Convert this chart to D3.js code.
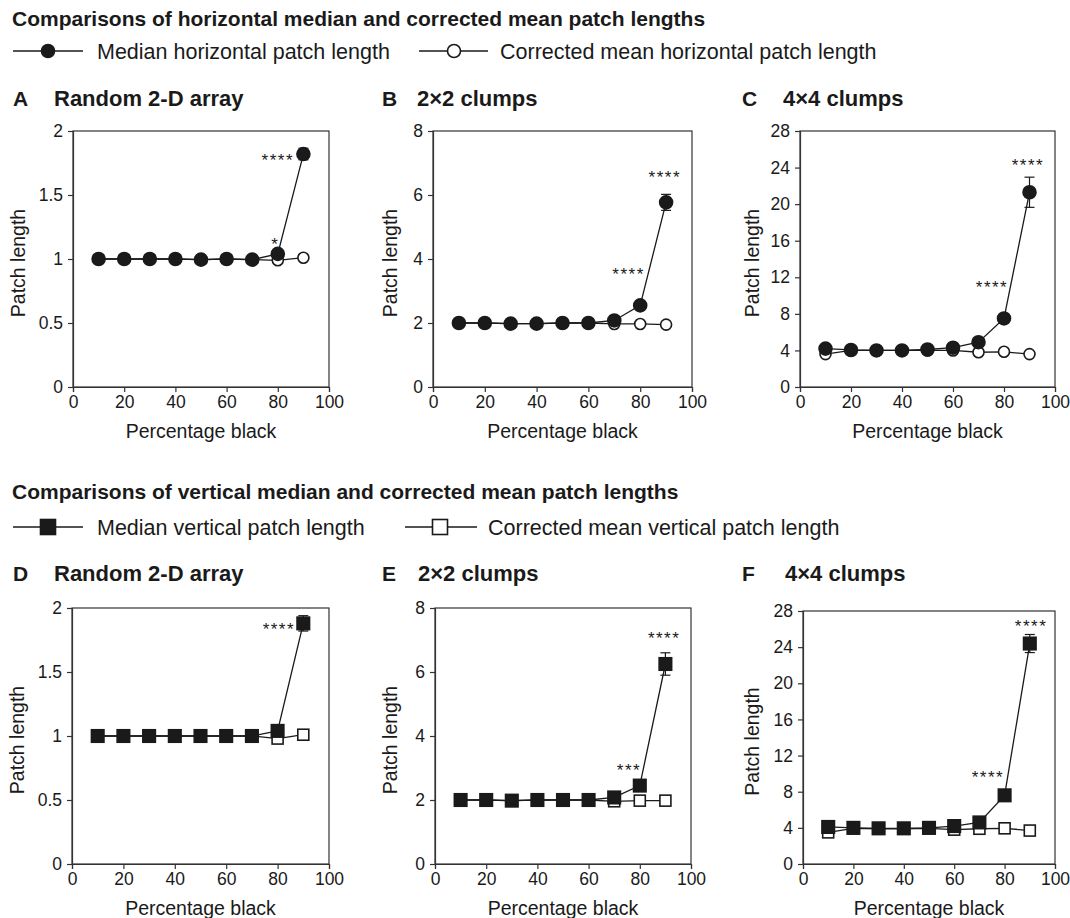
<!DOCTYPE html>
<html>
<head>
<meta charset="utf-8">
<script src="https://cdn.jsdelivr.net/npm/d3@7"></script>
<style>
  body { margin: 0; background: #fff; }
  svg { font-family: "Liberation Sans", Arial, Helvetica, sans-serif; }
</style>
</head>
<body>
<svg id="chart" width="1070" height="918"></svg>
<script>
// x categories shared by all six panels
const pctBlack = [10, 20, 30, 40, 50, 60, 70, 80, 90];
const xTicks = [0, 20, 40, 60, 80, 100];
const yTicksRand = [0, 0.5, 1, 1.5, 2];
const yTicks2x2 = [0, 2, 4, 6, 8];
const yTicks4x4 = [0, 4, 8, 12, 16, 20, 24, 28];

// horizontal patch lengths
const hRandMedian = [1.0, 1.0, 1.0, 1.0, 0.995, 1.0, 0.995, 1.04, 1.82];
const hRandMedianErr = [0, 0, 0, 0, 0, 0, 0, 0, 0.045];
const hRandMean = [1.0, 1.0, 1.0, 1.0, 0.995, 1.0, 0.995, 0.99, 1.01];
const hRandStars = [{ x: 79, y: 1.14, label: '*' }, { x: 80, y: 1.80, label: '****' }];

const h2Median = [2.0, 2.0, 1.98, 1.98, 2.0, 2.0, 2.08, 2.55, 5.77];
const h2MedianErr = [0, 0, 0, 0, 0, 0, 0, 0, 0.25];
const h2Mean = [2.0, 2.0, 1.98, 1.98, 2.0, 2.0, 1.97, 1.97, 1.95];
const h2Stars = [{ x: 75.5, y: 3.64, label: '****' }, { x: 89.5, y: 6.67, label: '****' }];

const h4Median = [4.2, 4.05, 4.0, 4.0, 4.1, 4.3, 4.9, 7.5, 21.3];
const h4MedianErr = [0, 0, 0, 0, 0, 0, 0.2, 0.5, 1.65];
const h4Mean = [3.6, 4.0, 4.0, 4.0, 4.0, 4.0, 3.8, 3.85, 3.6];
const h4Stars = [{ x: 75.3, y: 11.3, label: '****' }, { x: 89.4, y: 24.6, label: '****' }];

// vertical patch lengths
const vRandMedian = [1.0, 1.0, 1.0, 1.0, 1.0, 1.0, 1.0, 1.04, 1.88];
const vRandMedianErr = [0, 0, 0, 0, 0, 0, 0, 0, 0.06];
const vRandMean = [1.0, 1.0, 1.0, 1.0, 1.0, 1.0, 1.0, 0.98, 1.01];
const vRandStars = [{ x: 80.5, y: 1.86, label: '****' }];

const v2Median = [2.0, 2.0, 1.98, 2.0, 2.0, 2.0, 2.08, 2.45, 6.25];
const v2MedianErr = [0, 0, 0, 0, 0, 0, 0, 0, 0.35];
const v2Mean = [2.0, 2.0, 1.98, 2.0, 2.0, 2.0, 1.96, 1.98, 1.98];
const v2Stars = [{ x: 75.8, y: 3.03, label: '***' }, { x: 89.5, y: 7.16, label: '****' }];

const v4Median = [4.1, 4.0, 3.95, 3.95, 4.0, 4.2, 4.6, 7.6, 24.4];
const v4MedianErr = [0, 0, 0, 0, 0, 0, 0, 0.6, 1.0];
const v4Mean = [3.5, 3.95, 3.9, 3.9, 3.95, 3.8, 3.9, 3.95, 3.7];
const v4Stars = [{ x: 73.4, y: 10.0, label: '****' }, { x: 90.5, y: 26.7, label: '****' }];

const ink = '#1a1a1a';
const svg = d3.select('#chart');

// section headings and legends
const headings = [
  { y: 26, text: 'Comparisons of horizontal median and corrected mean patch lengths' },
  { y: 499, text: 'Comparisons of vertical median and corrected mean patch lengths' }
];
svg.selectAll('text.heading')
  .data(headings)
  .join('text')
  .attr('class', 'heading')
  .attr('x', 12)
  .attr('y', d => d.y)
  .attr('font-size', 21)
  .attr('font-weight', 'bold')
  .attr('fill', ink)
  .text(d => d.text);

const legendItems = [
  { y: 51, x0: 13, x1: 83, mx: 48, tx: 97, shape: 'circle', filled: true, text: 'Median horizontal patch length' },
  { y: 51, x0: 419, x1: 488, mx: 454, tx: 500, shape: 'circle', filled: false, text: 'Corrected mean horizontal patch length' },
  { y: 527, x0: 13, x1: 83, mx: 48, tx: 97, shape: 'square', filled: true, text: 'Median vertical patch length' },
  { y: 527, x0: 405, x1: 477, mx: 440, tx: 488, shape: 'square', filled: false, text: 'Corrected mean vertical patch length' }
];

function marker(sel, shape, filled, size) {
  if (shape === 'circle') {
    sel.append('circle')
      .attr('r', size / 2)
      .attr('fill', filled ? ink : '#fff')
      .attr('stroke', ink)
      .attr('stroke-width', 1.6);
  } else {
    sel.append('rect')
      .attr('x', -size / 2)
      .attr('y', -size / 2)
      .attr('width', size)
      .attr('height', size)
      .attr('fill', filled ? ink : '#fff')
      .attr('stroke', ink)
      .attr('stroke-width', 1.6);
  }
}

legendItems.forEach(d => {
  const g = svg.append('g');
  g.append('line')
    .attr('x1', d.x0).attr('x2', d.x1)
    .attr('y1', d.y).attr('y2', d.y)
    .attr('stroke', ink).attr('stroke-width', 1.6);
  const m = g.append('g').attr('transform', `translate(${d.mx},${d.y})`);
  marker(m, d.shape, d.filled, d.shape === 'circle' ? 13 : 15);
  g.append('text')
    .attr('x', d.tx)
    .attr('y', d.y + 8)
    .attr('font-size', 21.5)
    .attr('fill', ink)
    .text(d.text);
});

// one panel per clump size and direction
const panels = [
  { letter: 'A', title: 'Random 2-D array', lx: 13, tx: 54, ty: 106, left: 73, right: 329, top: 131, bottom: 387, ylx: 18,
    yMax: 2, yTicks: yTicksRand, median: hRandMedian, err: hRandMedianErr, mean: hRandMean, stars: hRandStars, shape: 'circle' },
  { letter: 'B', title: '2\u00d72 clumps', lx: 382, tx: 417, ty: 106, left: 433, right: 692, top: 131, bottom: 387, ylx: 390,
    yMax: 8, yTicks: yTicks2x2, median: h2Median, err: h2MedianErr, mean: h2Mean, stars: h2Stars, shape: 'circle' },
  { letter: 'C', title: '4\u00d74 clumps', lx: 742, tx: 783, ty: 106, left: 800, right: 1055, top: 131, bottom: 387, ylx: 752,
    yMax: 28, yTicks: yTicks4x4, median: h4Median, err: h4MedianErr, mean: h4Mean, stars: h4Stars, shape: 'circle' },
  { letter: 'D', title: 'Random 2-D array', lx: 13, tx: 54, ty: 581, left: 72, right: 329, top: 608, bottom: 864, ylx: 17,
    yMax: 2, yTicks: yTicksRand, median: vRandMedian, err: vRandMedianErr, mean: vRandMean, stars: vRandStars, shape: 'square' },
  { letter: 'E', title: '2\u00d72 clumps', lx: 382, tx: 418, ty: 581, left: 435, right: 691, top: 608, bottom: 864, ylx: 390,
    yMax: 8, yTicks: yTicks2x2, median: v2Median, err: v2MedianErr, mean: v2Mean, stars: v2Stars, shape: 'square' },
  { letter: 'F', title: '4\u00d74 clumps', lx: 742, tx: 785, ty: 581, left: 803, right: 1055, top: 611, bottom: 864, ylx: 752,
    yMax: 28, yTicks: yTicks4x4, median: v4Median, err: v4MedianErr, mean: v4Mean, stars: v4Stars, shape: 'square' }
];

panels.forEach(p => {
  const g = svg.append('g');

  g.append('text').attr('x', p.lx).attr('y', p.ty)
    .attr('font-size', 21).attr('font-weight', 'bold').attr('fill', ink).text(p.letter);
  g.append('text').attr('x', p.tx).attr('y', p.ty)
    .attr('font-size', 22).attr('font-weight', 'bold').attr('fill', ink).text(p.title);

  const x = d3.scaleLinear().domain([0, 100]).range([p.left, p.right]);
  const y = d3.scaleLinear().domain([0, p.yMax]).range([p.bottom, p.top]);

  // frame
  g.append('rect')
    .attr('x', p.left).attr('y', p.top)
    .attr('width', p.right - p.left).attr('height', p.bottom - p.top)
    .attr('fill', 'none').attr('stroke', '#333').attr('stroke-width', 1.2);

  const xAxis = g.append('g')
    .attr('transform', `translate(0,${p.bottom})`)
    .call(d3.axisBottom(x).tickValues(xTicks).tickSizeOuter(0).tickSize(5).tickPadding(4));
  const yAxis = g.append('g')
    .attr('transform', `translate(${p.left},0)`)
    .call(d3.axisLeft(y).tickValues(p.yTicks).tickSizeOuter(0).tickSize(5).tickPadding(5).tickFormat(d3.format('')));
  [xAxis, yAxis].forEach(a => {
    a.selectAll('.domain').attr('stroke', '#333').attr('stroke-width', 1.2);
    a.selectAll('.tick line').attr('stroke', '#333').attr('stroke-width', 1.2);
    a.selectAll('.tick text')
      .attr('font-family', '"Liberation Sans", Arial, sans-serif')
      .attr('font-size', 17.5).attr('fill', ink);
  });

  g.append('text')
    .attr('x', (p.left + p.right) / 2).attr('y', p.bottom + 51)
    .attr('text-anchor', 'middle').attr('font-size', 19.5).attr('fill', ink)
    .text('Percentage black');
  g.append('text')
    .attr('transform', `translate(${p.ylx},${(p.top + p.bottom) / 2 + 4}) rotate(-90)`)
    .attr('text-anchor', 'middle').attr('dominant-baseline', 'central')
    .attr('font-size', 19.5).attr('fill', ink)
    .text('Patch length');

  const line = d3.line().x((d, i) => x(pctBlack[i])).y(d => y(d));

  // corrected mean (open markers) underneath
  g.append('path').attr('d', line(p.mean))
    .attr('fill', 'none').attr('stroke', ink).attr('stroke-width', 1.3);
  p.mean.forEach((v, i) => {
    const m = g.append('g').attr('transform', `translate(${x(pctBlack[i])},${y(v)})`);
    marker(m, p.shape, false, 11);
  });

  // median (filled markers) with error bars
  g.append('path').attr('d', line(p.median))
    .attr('fill', 'none').attr('stroke', ink).attr('stroke-width', 1.3);
  p.median.forEach((v, i) => {
    const cx = x(pctBlack[i]);
    const e = p.err[i];
    if (e > 0) {
      g.append('line').attr('x1', cx).attr('x2', cx).attr('y1', y(v - e)).attr('y2', y(v + e))
        .attr('stroke', ink).attr('stroke-width', 1.2);
      [v - e, v + e].forEach(t => {
        g.append('line').attr('x1', cx - 5).attr('x2', cx + 5).attr('y1', y(t)).attr('y2', y(t))
          .attr('stroke', ink).attr('stroke-width', 1.2);
      });
    }
    const m = g.append('g').attr('transform', `translate(${cx},${y(v)})`);
    marker(m, p.shape, true, p.shape === 'circle' ? 13 : 12.5);
  });

  // significance stars
  g.selectAll('text.star')
    .data(p.stars)
    .join('text')
    .attr('class', 'star')
    .attr('x', d => x(d.x))
    .attr('y', d => y(d.y) + 9)
    .attr('text-anchor', 'middle')
    .attr('font-size', 17)
    .attr('letter-spacing', 1.5)
    .attr('fill', ink)
    .text(d => d.label);
});
</script>
</body>
</html>
